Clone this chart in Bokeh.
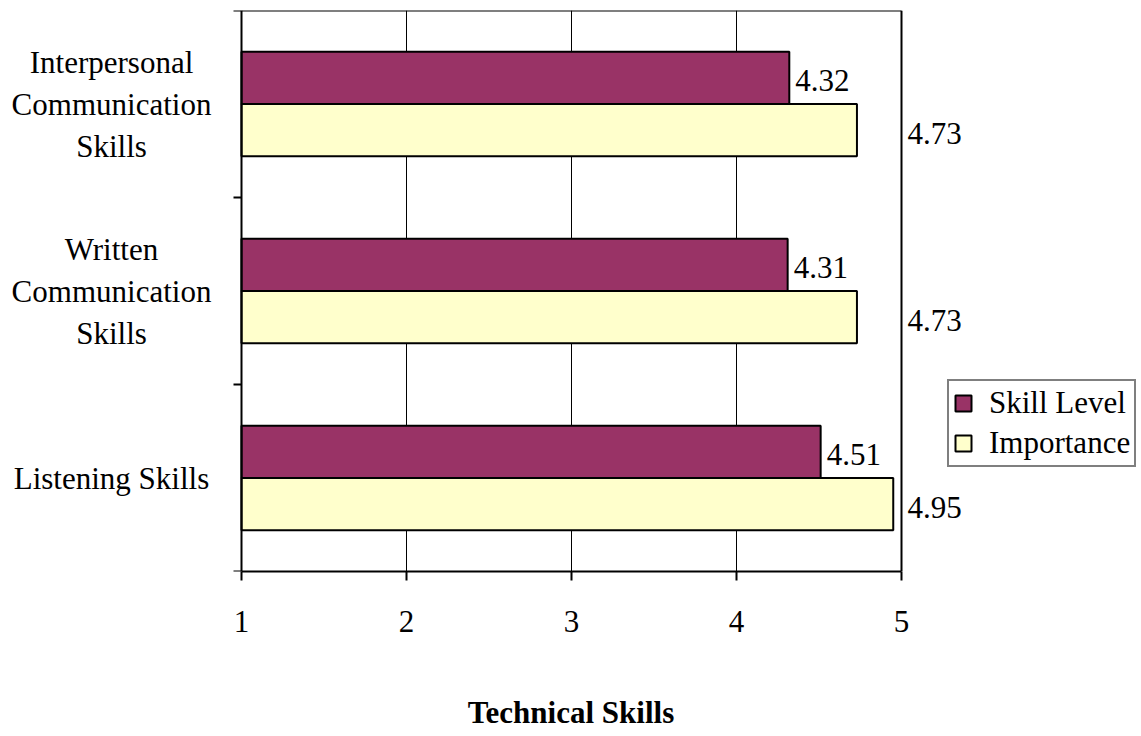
from bokeh.plotting import figure
from bokeh.models import (Range1d, FixedTicker, ColumnDataSource, LabelSet,
                          Legend, LegendItem, LinearAxis)
from bokeh.core.properties import value
from bokeh.embed import file_html
from bokeh.resources import INLINE

# Survey results: skill level vs. importance (scale 1-5), bottom to top
categories = [
    "Listening Skills",
    "Written\nCommunication\nSkills",
    "Interpersonal\nCommunication\nSkills",
]
skill_level = [4.51, 4.31, 4.32]
importance = [4.95, 4.73, 4.73]
x_ticks = [1, 2, 3, 4, 5]

FONT = "Liberation Serif"
FONT_SIZE = "31px"
SKILL_COLOR = "#993366"
IMPORTANCE_COLOR = "#FFFFCC"

# page geometry (pixels)
WIDTH, HEIGHT = 1141, 736
PLOT_LEFT, PLOT_RIGHT = 241, 901       # where the 1..5 scale sits
PLOT_TOP, PLOT_BOTTOM = 10, 571
px_per_unit = (PLOT_RIGHT - PLOT_LEFT) / (x_ticks[-1] - x_ticks[0])

bar_height = 0.28
centers = [i + 0.5 for i in range(len(categories))]
bounds = [float(i) for i in range(len(categories) + 1)]

source = ColumnDataSource(dict(
    skill=skill_level,
    importance=importance,
    skill_y=[c + bar_height / 2 for c in centers],
    imp_y=[c - bar_height / 2 for c in centers],
    skill_txt=[f"{v:.2f}" for v in skill_level],
    imp_txt=[f"{v:.2f}" for v in importance],
    imp_label_x=[x_ticks[-1]] * len(importance),
))

cat_source = ColumnDataSource(dict(
    x=[x_ticks[0]] * len(categories),
    y=centers,
    name=categories,
))

# the frame spans the full page width so labels and legend outside the
# 1..5 box are not clipped
x_range = Range1d(x_ticks[0] - PLOT_LEFT / px_per_unit,
                  x_ticks[-1] + (WIDTH - PLOT_RIGHT) / px_per_unit)

p = figure(
    width=WIDTH, height=HEIGHT,
    frame_width=WIDTH, frame_height=PLOT_BOTTOM - PLOT_TOP,
    x_range=x_range,
    y_range=Range1d(bounds[0], bounds[-1]),
    y_axis_location=None,
    output_backend="svg", toolbar_location=None,
    min_border_left=0, min_border_right=0,
    min_border_top=PLOT_TOP, min_border_bottom=HEIGHT - PLOT_BOTTOM,
    background_fill_color="white", border_fill_color="white",
)
p.outline_line_color = None

# vertical gridlines inside the box
p.xgrid.ticker = FixedTicker(ticks=x_ticks[1:-1])
p.xgrid.grid_line_color = "black"
p.xgrid.grid_line_width = 1
p.ygrid.visible = False

# top and right edges of the plot box
p.segment(x0=[x_ticks[0], x_ticks[-1]], y0=[bounds[-1], bounds[0]],
          x1=[x_ticks[-1], x_ticks[-1]], y1=[bounds[-1], bounds[-1]],
          line_color="black", line_width=2)

r_skill = p.hbar(y="skill_y", left=x_ticks[0], right="skill", height=bar_height,
                 source=source, fill_color=SKILL_COLOR,
                 line_color="black", line_width=2)
r_imp = p.hbar(y="imp_y", left=x_ticks[0], right="importance", height=bar_height,
               source=source, fill_color=IMPORTANCE_COLOR,
               line_color="black", line_width=2)

# x axis
xa = p.xaxis[0]
xa.ticker = FixedTicker(ticks=x_ticks)
xa.bounds = (x_ticks[0], x_ticks[-1])
xa.axis_line_width = 2
xa.major_tick_line_width = 2
xa.major_tick_out = 9
xa.major_tick_in = 0
xa.minor_tick_out = 0
xa.minor_tick_in = 0
xa.major_label_standoff = 30
xa.major_label_text_font = FONT
xa.major_label_text_font_size = FONT_SIZE
xa.major_label_text_color = "black"
xa.axis_label = "Technical Skills"
xa.axis_label_text_font = FONT
xa.axis_label_text_font_size = "31px"
xa.axis_label_text_font_style = "bold"
xa.axis_label_text_color = "black"
xa.axis_label_standoff = 60

# y axis drawn at x = 1 with tick marks on the category boundaries
ya = LinearAxis(fixed_location=x_ticks[0],
                ticker=FixedTicker(ticks=bounds),
                major_label_overrides={b: "" for b in bounds},
                axis_line_width=2, axis_line_color="black",
                major_tick_out=8, major_tick_in=0,
                major_tick_line_width=2, major_tick_line_color="black",
                minor_tick_out=0, minor_tick_in=0)
p.add_layout(ya, "left")

# category names, centred line by line
p.text(x="x", y="y", text="name", source=cat_source,
       x_offset=-130, text_align="center", text_baseline="middle",
       text_font=value(FONT), text_font_size=value(FONT_SIZE),
       text_color="black", text_line_height=1.2)

# value labels
p.add_layout(LabelSet(x="skill", y="skill_y", text="skill_txt", source=source,
                      x_offset=6, y_offset=-3, text_baseline="middle",
                      text_font=FONT, text_font_size=FONT_SIZE,
                      text_color="black"))
p.add_layout(LabelSet(x="imp_label_x", y="imp_y", text="imp_txt", source=source,
                      x_offset=6, y_offset=-3, text_baseline="middle",
                      text_font=FONT, text_font_size=FONT_SIZE,
                      text_color="black"))

legend = Legend(
    items=[LegendItem(label="Skill Level", renderers=[r_skill]),
           LegendItem(label="Importance", renderers=[r_imp])],
    location=(947, 104),
    label_text_font=FONT, label_text_font_size=FONT_SIZE,
    label_text_color="black",
    glyph_width=20, glyph_height=20,
    label_standoff=16, padding=4, spacing=4, margin=0,
    border_line_color="black", border_line_width=2,
    background_fill_color="white", background_fill_alpha=1.0,
)
p.add_layout(legend)

open("out.html", "w").write(file_html(p, INLINE))
